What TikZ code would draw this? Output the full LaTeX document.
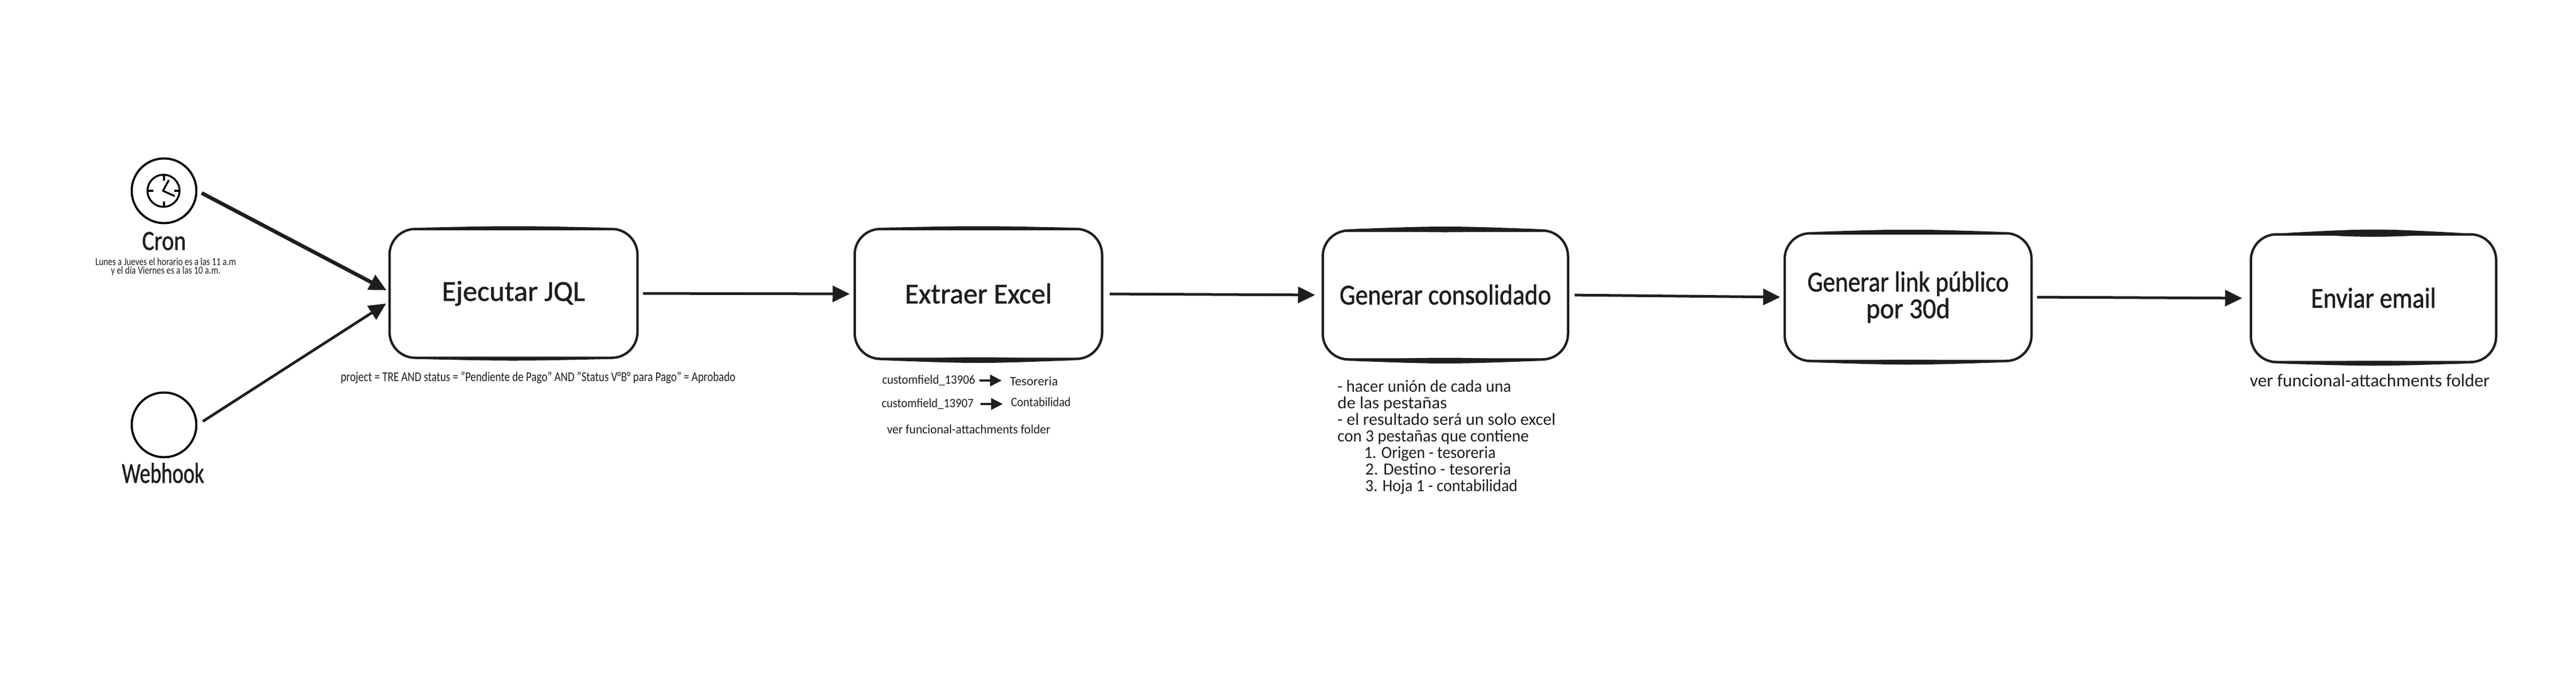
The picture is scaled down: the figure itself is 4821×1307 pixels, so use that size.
\documentclass[tikz,border=0pt]{standalone}
\usepackage{graphicx}
\usepackage{fontspec}
\setmainfont{Carlito}
\newfontfamily\heavy{Carlito}[FakeBold=1.2]
\usetikzlibrary{arrows.meta}
\definecolor{ink}{HTML}{1E1E1E}
\newsavebox{\fitbox}
% \fitw{target width}{text}: sets text at the current size, stretched to the reference's width
\newcommand{\fitw}[2]{\sbox{\fitbox}{#2}\pgfmathsetmacro{\fitratio}{#1/\the\wd\fitbox}\scalebox{\fitratio}[1]{\usebox{\fitbox}}}
% \lens{anchor}{half width}{thickness}: the doubled pen stroke along a box edge
\newcommand{\lens}[3]{\fill[ink] ([xshift=-#2pt]#1) .. controls ([xshift=0pt,yshift=#3pt]#1) .. ([xshift=#2pt]#1) .. controls ([xshift=0pt,yshift=-#3pt]#1) .. cycle;}
\tikzset{
  x=1pt,y=-1pt,
  stepbox/.style={draw=ink,line width=4.5pt,rounded corners=48pt,fill=white,inner sep=0pt,text=ink,align=center,font=\heavy\fontsize{54}{50}\selectfont},
  ring/.style={circle,draw=black,line width=4pt,minimum size=121pt,inner sep=0pt},
  caption/.style={inner sep=0pt,text=ink},
  flow/.style={draw=ink,line width=5pt,-{Triangle[length=32pt,width=30pt]}},
  miniflow/.style={draw=ink,line width=4.5pt,-{Triangle[length=22pt,width=21pt]}},
  clockline/.style={draw=black,line width=3.5pt}
}
\begin{document}
\begin{tikzpicture}
\useasboundingbox[fill=white] (0,0) rectangle (4821,1307);
% triggers
\node[ring] (cron) at (307,357) {};
\node[ring] (webhook) at (307,795) {};
\coordinate (clk) at (306,357);
\draw[clockline] (clk) circle (30pt);
\draw[clockline] (307,327) -- (307,338);
\draw[clockline] (307,377) -- (307,387);
\draw[clockline] (277,357) -- (287,357);
\draw[clockline] (326,357) -- (337,357);
\draw[clockline,line join=round] (316,337) -- (305,357) -- (327,367);
\node[caption,font=\heavy\fontsize{52}{52}\selectfont] (cronlabel) at (307,451) {\fitw{82}{Cron}};
\node[caption,font=\heavy\fontsize{54}{54}\selectfont] (webhooklabel) at (305,885) {\fitw{154}{Webhook}};
\node[caption,font=\fontsize{20}{16}\selectfont,align=center] (crontext) at (310,499) {\fitw{263}{Lunes a Jueves el horario es a las 11 a.m}\\\fitw{205}{y el día Viernes es a las 10 a.m.}};
% steps
\node[stepbox,minimum width=464pt,minimum height=241pt] (ejec) at (961,549) {\raisebox{-5pt}{\fitw{268}{Ejecutar JQL}}};
\node[stepbox,minimum width=463pt,minimum height=243pt] (extr) at (1831,550) {\raisebox{2pt}{\fitw{275}{Extraer Excel}}};
\node[stepbox,minimum width=459pt,minimum height=241pt] (cons) at (2705,552) {\raisebox{2pt}{\fitw{396}{Generar consolidado}}};
\node[stepbox,minimum width=462pt,minimum height=239pt] (link) at (3571,556) {\fitw{377}{Generar link público}\\\fitw{157}{por 30d}};
\node[stepbox,minimum width=459pt,minimum height=239pt] (mail) at (4442,558) {\raisebox{2pt}{\fitw{234}{Enviar email}}};
% doubled pen strokes on the box edges
\lens{ejec.north}{185}{4}
\lens{ejec.south}{185}{4}
\lens{extr.north}{190}{4}
\lens{extr.south}{190}{7}
\lens{cons.north}{190}{7}
\lens{cons.south}{190}{7}
\lens{link.north}{185}{6}
\lens{link.south}{185}{6}
\lens{mail.north}{170}{9}
\lens{mail.south}{190}{6}
% connectors
\draw[flow,line width=7pt,shorten <=9pt,shorten >=4pt] (cron.east) -- (ejec.179);
\draw[flow,shorten <=12pt,shorten >=5pt] (webhook.east) -- (ejec.184.5);
\draw[flow,shorten <=8pt,shorten >=7pt] (ejec.east) -- (extr.west);
\draw[flow,shorten <=12pt,shorten >=12pt] (extr.east) -- (cons.west);
\draw[flow,shorten <=10pt,shorten >=6pt] (cons.east) -- (link.west);
\draw[flow,shorten <=8pt,shorten >=14pt] (link.east) -- (mail.west);
% notes
\node[caption,font=\fontsize{25}{25}\selectfont] (jql) at (1007,707) {\fitw{739}{project = TRE AND status = "Pendiente de Pago" AND "Status V°B° para Pago" = Aprobado}};
\node[caption,font=\fontsize{24}{24}\selectfont] (cf1) at (1738,712) {\fitw{174}{customfield\_13906}};
\node[caption,font=\fontsize{24}{24}\selectfont] (cf2) at (1736,756) {\fitw{172}{customfield\_13907}};
\node[caption,font=\fontsize{24}{24}\selectfont] (teso) at (1935,713) {\fitw{90}{Tesoreria}};
\node[caption,font=\fontsize{24}{24}\selectfont] (cont) at (1948,752) {\fitw{112}{Contabilidad}};
\draw[miniflow,shorten <=8pt,shorten >=15pt] (cf1.east) -- (cf1.east -| teso.west);
\draw[miniflow,shorten <=13pt,shorten >=15pt] (cf2.east) -- (cf2.east -| cont.west);
\node[caption,font=\fontsize{24}{24}\selectfont] (attach1) at (1813,803) {\fitw{306}{ver funcional-attachments folder}};
\node[caption,anchor=north west,align=left,font=\fontsize{32}{31}\selectfont] (steps) at (2503,711) {\fitw{325}{- hacer unión de cada una}\\\fitw{205}{de las pestañas}\\\fitw{408}{- el resultado será un solo excel}\\\fitw{358}{con 3 pestañas que contiene}\\\hspace*{50pt}\fitw{246}{1. Origen - tesoreria}\\\hspace*{52pt}\fitw{273}{2. Destino - tesoreria}\\\hspace*{52pt}\fitw{285}{3. Hoja 1 - contabilidad}};
\node[caption,font=\fontsize{34}{34}\selectfont] (attach2) at (4435,712) {\fitw{449}{ver funcional-attachments folder}};
\end{tikzpicture}
\end{document}
